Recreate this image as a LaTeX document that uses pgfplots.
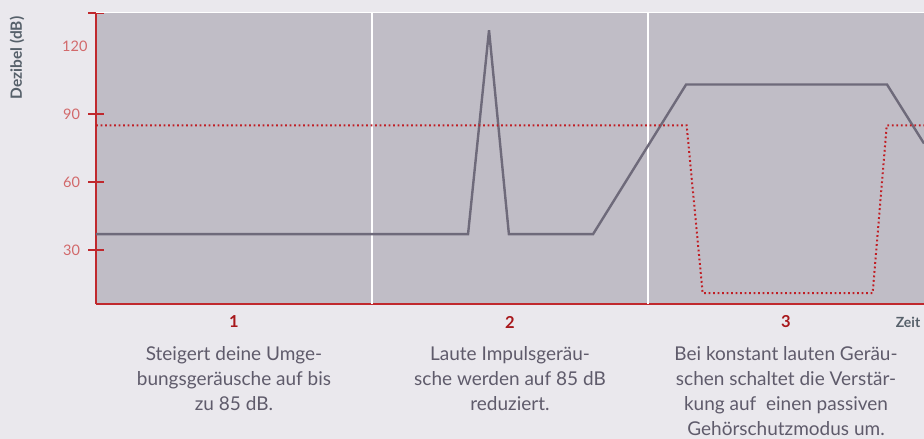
\documentclass[border=0pt]{standalone}
\usepackage{pgfplots}
\pgfplotsset{compat=1.18}
\usepackage{fontspec}
\setmainfont{Lato}
\definecolor{pagebg}{HTML}{EAE8ED}
\definecolor{plotbg}{HTML}{C0BDC6}
\definecolor{lgray}{HTML}{6E6A7A}
\definecolor{dred}{HTML}{C01E24}
\definecolor{axred}{HTML}{C0282D}
\definecolor{tickred}{HTML}{D2696B}
\definecolor{numred}{HTML}{A8181C}
\definecolor{labgray}{HTML}{56606A}
\definecolor{txtgray}{HTML}{5F5B6B}
\begin{document}
\begin{tikzpicture}[x=1pt,y=1pt]
\path[use as bounding box, fill=pagebg] (0,0) rectangle (924,439);
\begin{axis}[
  at={(96pt,135pt)}, anchor=south west,
  scale only axis, width=828pt, height=291pt,
  xmin=0, xmax=3, ymin=6.18, ymax=134.56,
  axis x line=bottom, axis y line=left,
  axis line style={axred, line width=1.2pt, -},
  axis background/.style={fill=plotbg},
  xtick=\empty,
  extra x ticks={1,2}, extra x tick labels={},
  extra x tick style={grid=major, major grid style={white, line width=2pt}, major tick length=0pt},
  ytick={30,60,90,134.56}, yticklabels={30,60,90,},
  extra y ticks={120}, extra y tick labels={120},
  extra y tick style={major tick length=0pt},
  tick align=center, major tick length=15pt,
  tick style={axred, line width=1.2pt},
  /pgf/number format/assume math mode=true,
  yticklabel style={font=\fontsize{14.5}{16}\selectfont, text=tickred, anchor=east, xshift=-5pt},
  clip=true,
]
\addplot[lgray, line width=2.4pt, line join=miter] coordinates {
 (0,37) (1.348,37) (1.424,127) (1.496,37) (1.801,37) (2.138,103) (2.866,103) (3,77)};
\addplot[dred, line width=2pt, dash pattern=on 1.8pt off 2.7pt] coordinates {
 (0,85) (2.14,85) (2.198,11) (2.814,11) (2.865,85) (3,85)};
\end{axis}
\draw[white, line width=1pt] (96,426) -- (924,426);
\node[rotate=90, font=\bfseries\fontsize{15.5}{18}\selectfont, text=labgray] at (17,381) {Dezibel (dB)};
\foreach \x/\n in {234/1, 510/2, 786/3}
  \node[font=\bfseries\fontsize{16.5}{19}\selectfont, text=numred] at (\x,117) {\n};
\node[font=\bfseries\fontsize{14}{16}\selectfont, text=labgray] at (908,117) {Zeit};
\node[anchor=base, align=center, font=\fontsize{19}{25}\selectfont, text=txtgray] at (234,28)
 {Steigert deine Umge-\\bungsgeräusche auf bis\\zu 85 dB.};
\node[anchor=base, align=center, font=\fontsize{19}{25}\selectfont, text=txtgray] at (510,28)
 {Laute Impulsgeräu-\\sche werden auf 85 dB\\reduziert.};
\node[anchor=base, align=center, font=\fontsize{19}{25}\selectfont, text=txtgray] at (786,3)
 {Bei konstant lauten Geräu-\\schen schaltet die Verstär-\\kung auf\ \ einen passiven\\Gehörschutzmodus um.};
\end{tikzpicture}
\end{document}
